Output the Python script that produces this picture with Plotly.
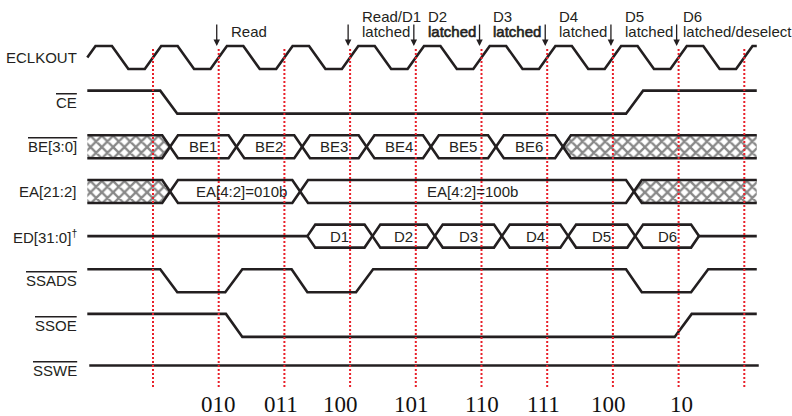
import plotly.graph_objects as go

# Timing diagram: SBSRAM burst read.
# Time runs in ECLKOUT periods, t=0 is the first rising edge at the left border.

t_end = 10.19
clock_rises = [0, 1, 2, 3, 4, 5, 6, 7, 8, 9, 10]
strobes = [1, 2, 3, 4, 5, 6, 7, 8, 9, 10]          # red dotted lines

row_labels = ['ECLKOUT', 'CE', 'BE[3:0]', 'EA[21:2]', 'ED[31:0]<sup>†</sup>',
              'SSADS', 'SSOE', 'SSWE']
active_low = [False, True, True, False, False, True, True, True]

# level signals: (begin, end) of every edge, they all start high
ce_edges = [(1.11, 1.37), (8.20, 8.46)]
ssads_edges = [(1.11, 1.37), (2.10, 2.36), (3.11, 3.35), (4.09, 4.35),
               (8.20, 8.44), (9.19, 9.45)]
ssoe_edges = [(2.11, 2.36), (8.94, 9.20)]
sswe_span = (0.03, 10.22)

# buses: crossing times and the value between them (None = don't care, 'Z' = hi-z)
be_cross = [1.26, 2.27, 3.27, 4.25, 5.23, 6.22, 7.24]
be_values = [None, 'BE1', 'BE2', 'BE3', 'BE4', 'BE5', 'BE6', None]
ea_cross = [1.26, 3.24, 8.32]
ea_values = [None, 'EA[4:2]=010b', 'EA[4:2]=100b', None]
ed_cross = [3.35, 4.34, 5.29, 6.31, 7.32, 8.34, 9.31]
ed_values = ['Z', 'D1', 'D2', 'D3', 'D4', 'D5', 'D6', 'Z']

# events marked with arrows above the clock
event_times = [2, 4, 5, 6, 7, 8, 9]
event_line1 = ['', 'Read/D1', 'D2', 'D3', 'D4', 'D5', 'D6']
event_line2 = ['Read', 'latched', 'latched', 'latched', 'latched', 'latched',
               'latched/deselect']
event_bold = [False, False, True, True, False, False, False]

# burst address codes under the diagram
code_text = ['010', '011', '100', '101', '110', '111', '100', '10']
code_t = [2.0, 2.95, 3.86, 4.94, 6.0, 6.94, 7.94, 9.04]

INK = '#231f20'
RED = '#e8202a'
SANS = 'Arial, Liberation Sans, sans-serif'
AMP = 11.5 / 44.65     # half swing of a signal, in rows
W = 0.12               # half width of a bus crossing

fig = go.Figure()


def lvl(row, level):
    return -row + level * AMP


def add_line(xs, ys, width=2.6, color=INK, dash=None):
    fig.add_trace(go.Scatter(x=xs, y=ys, mode='lines',
                             line=dict(color=color, width=width, dash=dash),
                             hoverinfo='skip', showlegend=False))


def level_signal(row, edges):
    xs, ys, l = [0], [lvl(row, 1)], 1
    for a, b in edges:
        xs += [a, b]
        ys += [lvl(row, l), lvl(row, -l)]
        l = -l
    xs.append(t_end)
    ys.append(lvl(row, l))
    add_line(xs, ys)


def bus(row, cross, values, dx=0.0):
    bounds = [0] + cross + [t_end]
    last = len(values) - 1
    for i, v in enumerate(values):
        a, b = bounds[i], bounds[i + 1]
        if v == 'Z':
            add_line([a, b], [lvl(row, 0)] * 2)
            continue
        xs, up = [], []
        if i > 0:
            xs.append(a)
            up.append(0)
        xs += [a + W if i > 0 else a, b - W if i < last else b]
        up += [1, 1]
        if i < last:
            xs.append(b)
            up.append(0)
        top = [lvl(row, u) for u in up]
        bot = [lvl(row, -u) for u in up]
        if v is None:
            fig.add_trace(go.Scatter(
                x=xs + xs[::-1], y=top + bot[::-1], fill='toself', mode='none',
                fillpattern=dict(shape='x', size=8, solidity=0.5,
                                 fgcolor='#111111', bgcolor='white'),
                hoverinfo='skip', showlegend=False))
        else:
            fig.add_annotation(x=(a + b) / 2 + dx, y=lvl(row, 0), text=v,
                               showarrow=False,
                               font=dict(family=SANS, size=15, color=INK))
        add_line(xs + [None] + xs, top + [None] + bot)


# clock
cx, cy = [0], [lvl(0, 0)]
for k in clock_rises:
    cx.append(k + 0.125)
    cy.append(lvl(0, 1))
    if k + 0.375 < t_end:
        cx += [k + 0.375, k + 0.625, k + 0.875]
        cy += [lvl(0, 1), lvl(0, -1), lvl(0, -1)]
cx.append(t_end)
cy.append(lvl(0, 1))
add_line(cx, cy)

level_signal(1, ce_edges)
bus(2, be_cross, be_values)
bus(3, ea_cross, ea_values, dx=0.09)
bus(4, ed_cross, ed_values)
level_signal(5, ssads_edges)
level_signal(6, ssoe_edges)
add_line(list(sswe_span), [lvl(7, 0.4)] * 2)

# red reference lines
rx, ry = [], []
for t in strobes:
    rx += [t, t, None]
    ry += [0.19, -7.40, None]
add_line(rx, ry, width=2, color=RED, dash='2px,2px')

# row labels
for i, name in enumerate(row_labels):
    txt = f'<span style="text-decoration:overline">{name}</span>' if active_low[i] else name
    fig.add_annotation(x=-0.126, y=-i, text=txt, showarrow=False, xanchor='right',
                       font=dict(family=SANS, size=15, color=INK))

# event arrows and texts (the last text sits closer to its arrow)
for j, (t, l1, l2, bold) in enumerate(zip(event_times, event_line1, event_line2, event_bold)):
    fig.add_annotation(x=t - 0.03, y=lvl(0, 1), ax=t - 0.03, ay=0.773,
                       axref='x', ayref='y', text='', showarrow=True,
                       arrowhead=2, arrowsize=1, arrowwidth=1.3,
                       arrowcolor=INK, standoff=0)
    if bold:
        l2 = f'<span style="stroke:{INK};stroke-width:0.6px">{l2}</span>'
    gap = 0.04 if j == len(event_times) - 1 else 0.15
    for txt, y in ((l1, 0.929), (l2, 0.593)):
        if txt:
            fig.add_annotation(x=t + gap, y=y, text=txt, showarrow=False,
                               xanchor='left',
                               font=dict(family=SANS, size=15, color=INK))

for t, txt in zip(code_t, code_text):
    fig.add_annotation(x=t, y=-7.78, text=txt, showarrow=False,
                       font=dict(family='Times New Roman, Liberation Serif, serif',
                                 size=23, color='#111111'))

fig.update_layout(
    width=792, height=416,
    margin=dict(l=0, r=0, t=0, b=0),
    paper_bgcolor='white', plot_bgcolor='white',
    xaxis=dict(range=[-87.3 / 65.7, (792 - 87.3) / 65.7], visible=False),
    yaxis=dict(range=[-8.029, 1.288], visible=False),
)

# drop the default 8px body margin so the figure fills the window exactly
fig.write_html("out.html", config={'displayModeBar': False},
               post_script="document.body.style.margin='0';"
                           "document.body.style.overflow='hidden';")
